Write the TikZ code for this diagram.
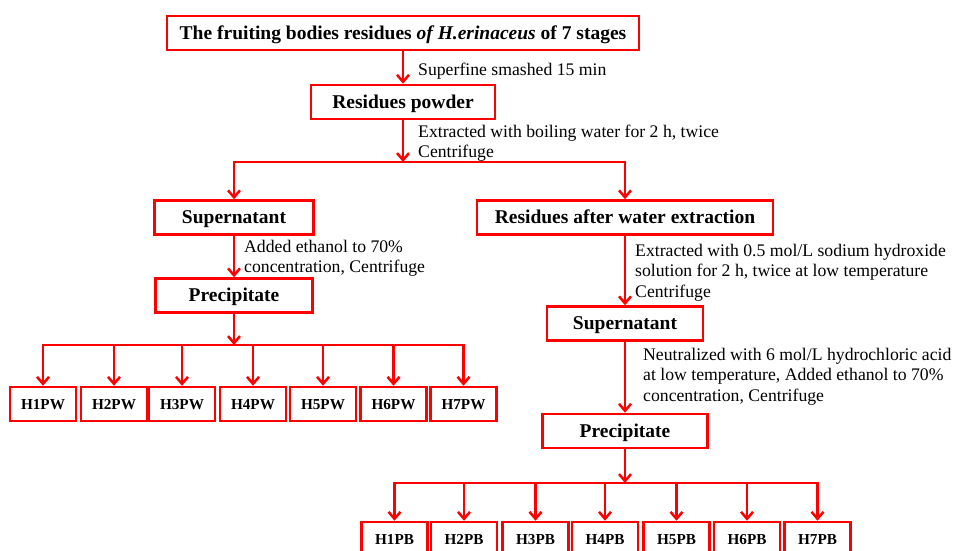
\documentclass[tikz,border=0pt]{standalone}
\usepackage{fontspec}
\setmainfont{Liberation Serif}
\usetikzlibrary{arrows.meta}
\definecolor{flowred}{RGB}{255,0,0}
\begin{document}
\begin{tikzpicture}[x=1pt,y=-1pt,
  box/.style={draw=flowred, line width=2.5pt, fill=white, inner sep=0pt, minimum height=34pt, text height=12.9pt, text depth=0pt, font=\fontsize{19.5}{23}\selectfont\bfseries},
  hbox/.style={box, minimum width=66pt, text height=10pt, font=\fontsize{15.2}{18}\selectfont\bfseries},
  lbl/.style={inner sep=0pt, align=left, anchor=north west, font=\fontsize{17.7}{20.5}\selectfont},
  conn/.style={draw=flowred, line width=2.5pt, -{Straight Barb[length=7pt,width=12pt]}}]
\clip (0,0) rectangle (955,551);
% main column
\node[box, minimum width=472pt] (title) at (403,33) {The fruiting bodies residues \textit{of H.erinaceus} of 7 stages};
\node[box, minimum width=184pt] (powder) at (403,102) {Residues powder};
\node[lbl, anchor=base west] (l1) at (418,75) {Superfine smashed 15 min};
\node[lbl] (l2) at (418,122.65) {\strut Extracted with boiling water for 2 h, twice\\Centrifuge};
\coordinate (j1) at (403,162);
% left branch
\node[box, minimum width=159pt] (sup1) at (234,217.5) {Supernatant};
\node[box, minimum width=157pt] (prec1) at (234,295.5) {Precipitate};
\node[lbl] (l3) at (244,237.65) {\strut Added ethanol to 70\%\\concentration, Centrifuge};
\coordinate (j2) at (234,345);
\foreach \i/\x in {1/43,2/114,3/182,4/253,5/323,6/393.5,7/463.5}
  \node[hbox] (pw\i) at (\x,404) {H\i PW};
% right branch
\node[box, minimum width=296pt] (resw) at (625,217.5) {Residues after water extraction};
\node[box, minimum width=156pt] (sup2) at (625,323.5) {Supernatant};
\node[box, minimum width=165pt] (prec2) at (625,431) {Precipitate};
\node[lbl] (l4) at (635,241.65) {\strut Extracted with 0.5 mol/L sodium hydroxide\\solution for 2 h, twice at low temperature\\Centrifuge};
\node[lbl] (l5) at (643,345.65) {\strut Neutralized with 6 mol/L hydrochloric acid\\at low temperature, Added ethanol to 70\%\\concentration, Centrifuge};
\coordinate (j3) at (625,483);
\foreach \i/\x in {1/394.5,2/464,3/535.5,4/605,5/676.5,6/747,7/817.5}
  \node[hbox] (pb\i) at (\x,539) {H\i PB};
% connectors
\draw[conn] (title) -- (powder);
\draw[conn] (powder) -- (j1);
\draw[conn] (j1) -| (sup1);
\draw[conn] (j1) -| (resw);
\draw[conn] (sup1) -- (prec1);
\draw[conn] (prec1) -- (j2);
\foreach \i in {1,...,7} \draw[conn] (j2) -| (pw\i);
\draw[conn] (resw) -- (sup2);
\draw[conn] (sup2) -- (prec2);
\draw[conn] (prec2) -- (j3);
\foreach \i in {1,...,7} \draw[conn] (j3) -| (pb\i);
\end{tikzpicture}
\end{document}
